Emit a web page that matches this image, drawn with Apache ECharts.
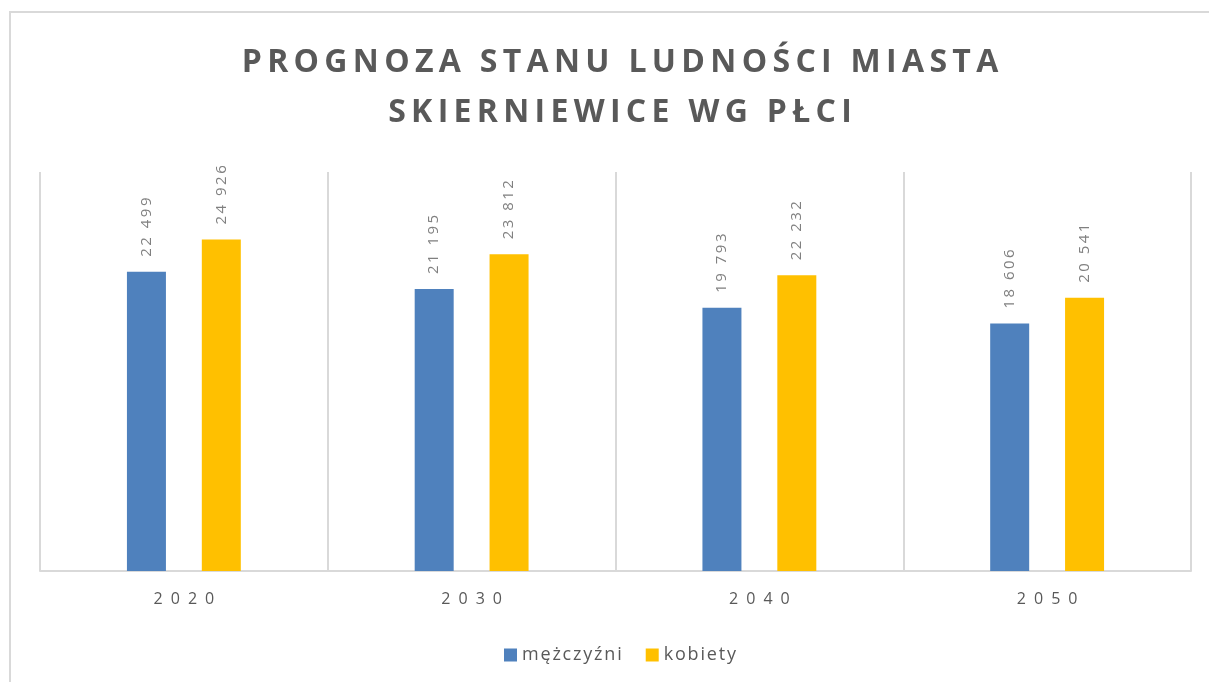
<!DOCTYPE html>
<html>
<head>
<meta charset="utf-8">
<script src="https://cdn.jsdelivr.net/npm/echarts@6/dist/echarts.min.js"></script>
<style>
  html, body { margin: 0; padding: 0; background: #fff; }
  #main { width: 1209px; height: 682px; }
</style>
</head>
<body>
<div id="main"></div>
<script>
// dane z wykresu
const years = ['2020', '2030', '2040', '2050'];
const men = [22499, 21195, 19793, 18606];
const women = [24926, 23812, 22232, 20541];
const seriesNames = ['mężczyźni', 'kobiety'];
const titleLines = ['PROGNOZA STANU LUDNOŚCI MIASTA', 'SKIERNIEWICE WG PŁCI'];

const chart = echarts.init(document.getElementById('main'));

// rozstrzelenie liter (letterSpacing nie dziala w canvasie)
function spaced(s, ch) {
  return Array.from(s).join(ch);
}

// 22499 -> "22 499"
function fmt(p) {
  const s = String(p.value).replace(/\B(?=(\d{3})+(?!\d))/g, ' ');
  return spaced(s, '\u2009');
}

const barLabel = {
  show: true,
  position: 'top',
  rotate: 90,
  align: 'left',
  verticalAlign: 'middle',
  distance: 15,
  color: '#808080',
  fontFamily: 'Open Sans',
  fontSize: 15,
  formatter: fmt
};

const option = {
  animation: false,
  backgroundColor: '#fff',
  textStyle: { fontFamily: 'Open Sans' },
  graphic: [
    {
      type: 'rect',
      shape: { x: 10, y: 12, width: 1400, height: 1000 },
      style: { fill: 'none', stroke: '#d9d9d9', lineWidth: 2 },
      silent: true
    }
  ],
  title: {
    text: titleLines.map(function (l) { return spaced(l, '\u2009'); }).join('\n'),
    left: 615,
    textAlign: 'center',
    top: 33,
    textStyle: {
      fontFamily: 'Open Sans',
      fontWeight: 'bold',
      fontSize: 32,
      lineHeight: 50,
      color: '#595959'
    }
  },
  legend: {
    data: seriesNames,
    left: 499,
    top: 641,
    itemWidth: 13,
    itemHeight: 13,
    itemGap: 24,
    icon: 'rect',
    formatter: function (n) { return spaced(n, '\u200A'); },
    textStyle: { color: '#595959', fontSize: 18, fontFamily: 'Open Sans' }
  },
  grid: {
    left: 40,
    right: 18,
    top: 172,
    bottom: 111
  },
  xAxis: {
    type: 'category',
    data: years,
    axisLine: { lineStyle: { color: '#d9d9d9', width: 2 } },
    axisTick: { show: false },
    axisLabel: {
      color: '#595959',
      fontSize: 16,
      margin: 20,
      fontFamily: 'Open Sans',
      formatter: function (v) { return spaced(v, '\u2002'); }
    },
    splitLine: {
      show: true,
      lineStyle: { color: '#d9d9d9', width: 2 }
    }
  },
  yAxis: {
    type: 'value',
    min: 0,
    max: 30000,
    show: false
  },
  series: [
    {
      name: seriesNames[0],
      type: 'bar',
      data: men,
      barWidth: 39,
      barGap: '92%',
      itemStyle: { color: '#4f81bd' },
      label: barLabel
    },
    {
      name: seriesNames[1],
      type: 'bar',
      data: women,
      barWidth: 39,
      barGap: '92%',
      itemStyle: { color: '#ffc000' },
      label: barLabel
    }
  ]
};

chart.setOption(option);
</script>
</body>
</html>
